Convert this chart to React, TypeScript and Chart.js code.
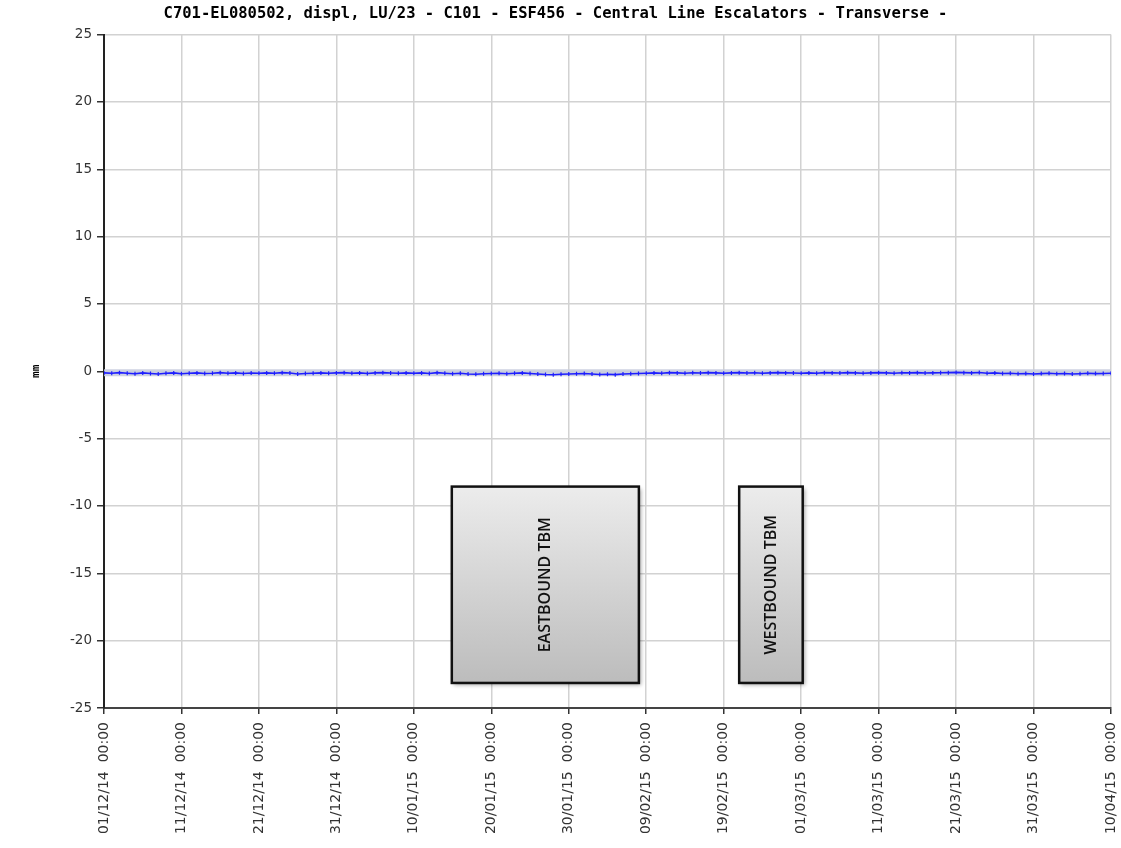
import React, { useEffect, useRef } from "react";
import { Chart, registerables } from "chart.js";

Chart.register(...registerables);

const chartTitle =
  "C701-EL080502, displ, LU/23 - C101 - ESF456 - Central Line Escalators - Transverse -";
const yAxisTitle = "mm";

// x tick labels every 10 days starting 01/12/14
const xTickLabels = [
  "01/12/14  00:00",
  "11/12/14  00:00",
  "21/12/14  00:00",
  "31/12/14  00:00",
  "10/01/15  00:00",
  "20/01/15  00:00",
  "30/01/15  00:00",
  "09/02/15  00:00",
  "19/02/15  00:00",
  "01/03/15  00:00",
  "11/03/15  00:00",
  "21/03/15  00:00",
  "31/03/15  00:00",
  "10/04/15  00:00",
];

// daily displacement (mm), day 0 = 01/12/14
const displacement = [
  -0.12, -0.15, -0.1, -0.14, -0.18, -0.12, -0.16, -0.2, -0.14, -0.12,
  -0.18, -0.15, -0.12, -0.16, -0.14, -0.1, -0.15, -0.12, -0.16, -0.13,
  -0.14, -0.12, -0.15, -0.1, -0.13, -0.2, -0.16, -0.14, -0.12, -0.15,
  -0.12, -0.1, -0.14, -0.12, -0.16, -0.12, -0.1, -0.13, -0.15, -0.12,
  -0.14, -0.12, -0.16, -0.1, -0.14, -0.18, -0.15, -0.2, -0.22, -0.18,
  -0.16, -0.14, -0.18, -0.15, -0.12, -0.16, -0.2, -0.24, -0.26, -0.22,
  -0.2, -0.18, -0.16, -0.2, -0.24, -0.22, -0.25, -0.2, -0.18, -0.16,
  -0.14, -0.12, -0.15, -0.1, -0.12, -0.14, -0.11, -0.13, -0.1, -0.12,
  -0.14, -0.12, -0.1, -0.13, -0.11, -0.14, -0.12, -0.1, -0.12, -0.13,
  -0.15, -0.12, -0.14, -0.1, -0.12, -0.13, -0.1, -0.12, -0.14, -0.12,
  -0.1, -0.12, -0.14, -0.11, -0.12, -0.1, -0.13, -0.12, -0.11, -0.1,
  -0.08, -0.1, -0.12, -0.09, -0.14, -0.12, -0.16, -0.15, -0.18, -0.16,
  -0.2, -0.17, -0.15, -0.18, -0.16, -0.2, -0.18, -0.15, -0.17, -0.16,
  -0.15,
];

// envelope band behind the series
const bandDays = [0, 130];
const bandValues = [-0.1, -0.1];

// annotation boxes: label, start day, end day, top mm, bottom mm
const boxLabels = ["EASTBOUND TBM", "WESTBOUND TBM"];
const boxStartDays = [44.9, 82.0];
const boxEndDays = [69.05, 90.2];
const boxTops = [-8.56, -8.56];
const boxBottoms = [-23.14, -23.14];

const boxPlugin = {
  id: "tbmBoxes",
  afterDatasetsDraw(chart: any) {
    const { ctx, scales } = chart;
    const xs = scales.x;
    const ys = scales.y;
    boxLabels.forEach((label, i) => {
      const x1 = xs.getPixelForValue(boxStartDays[i]);
      const x2 = xs.getPixelForValue(boxEndDays[i]);
      const y1 = ys.getPixelForValue(boxTops[i]);
      const y2 = ys.getPixelForValue(boxBottoms[i]);
      ctx.save();
      const g = ctx.createLinearGradient(0, y1, 0, y2);
      g.addColorStop(0, "#ececec");
      g.addColorStop(1, "#bcbcbc");
      ctx.shadowColor = "rgba(0,0,0,0.35)";
      ctx.shadowBlur = 4;
      ctx.shadowOffsetX = 2;
      ctx.shadowOffsetY = 2;
      ctx.fillStyle = g;
      ctx.fillRect(x1, y1, x2 - x1, y2 - y1);
      ctx.shadowColor = "transparent";
      ctx.lineWidth = 2.5;
      ctx.strokeStyle = "#111";
      ctx.strokeRect(x1, y1, x2 - x1, y2 - y1);
      ctx.translate((x1 + x2) / 2, (y1 + y2) / 2);
      ctx.rotate(-Math.PI / 2);
      ctx.fillStyle = "#111";
      ctx.font = "600 16px 'Open Sans'";
      ctx.textAlign = "center";
      ctx.textBaseline = "middle";
      ctx.fillText(label, 0, 0);
      ctx.restore();
    });
  },
};

export default function App() {
  const ref = useRef<HTMLCanvasElement | null>(null);

  useEffect(() => {
    document.body.style.margin = "0";
    const canvas = ref.current;
    if (!canvas) return;
    const chart = new Chart(canvas, {
      type: "line",
      data: {
        datasets: [
          {
            label: "displacement",
            data: displacement.map((v, i) => ({ x: i, y: v })),
            borderColor: "#1f1fff",
            backgroundColor: "#1f1fff",
            borderWidth: 1.6,
            pointStyle: "line",
            rotation: 90,
            pointRadius: 2,
            pointBorderWidth: 1.2,
            tension: 0,
            order: 1,
          },
          {
            label: "band",
            data: bandDays.map((d, i) => ({ x: d, y: bandValues[i] })),
            borderColor: "rgba(200,205,222,0.9)",
            borderWidth: 7,
            pointRadius: 0,
            order: 2,
          },
        ],
      },
      options: {
        responsive: false,
        animation: false,
        layout: { padding: { left: 0, right: 10, top: 0, bottom: 0 } },
        plugins: {
          legend: { display: false },
          tooltip: { enabled: false },
          title: {
            display: true,
            text: chartTitle,
            color: "#000",
            font: { family: "'DejaVu Sans Mono'", size: 15.5, weight: "bold" },
            padding: { top: 5, bottom: 11 },
          },
        },
        scales: {
          x: {
            type: "linear",
            min: 0,
            max: 130,
            ticks: {
              stepSize: 10,
              minRotation: 90,
              maxRotation: 90,
              padding: 8,
              color: "#333",
              font: { family: "'DejaVu Sans'", size: 14 },
              callback: (v: any) => xTickLabels[Math.round(Number(v) / 10)] ?? "",
            },
            grid: { color: "#d2d2d2", lineWidth: 1.5, tickColor: "#333", tickLength: 6 },
            border: { color: "#444", width: 2 },
            afterFit: (s: any) => {
              s.height = 140;
              s.paddingLeft = 0;
              s.paddingRight = 0;
            },
          },
          y: {
            type: "linear",
            min: -25,
            max: 25,
            ticks: {
              stepSize: 5,
              padding: 5,
              color: "#333",
              font: { family: "'DejaVu Sans'", size: 13.5 },
            },
            grid: { color: "#d2d2d2", lineWidth: 1.5, tickColor: "#333", tickLength: 7 },
            border: { color: "#222", width: 2 },
            title: {
              display: true,
              text: yAxisTitle,
              color: "#000",
              font: { family: "'DejaVu Sans Mono'", size: 11, weight: "bold" },
              padding: { top: 30, bottom: 0 },
            },
            afterFit: (s: any) => {
              s.width = 104;
            },
          },
        },
      },
      plugins: [boxPlugin],
    });
    return () => chart.destroy();
  }, []);

  return (
    <canvas ref={ref} width={1121} height={848} style={{ display: "block" }} />
  );
}
